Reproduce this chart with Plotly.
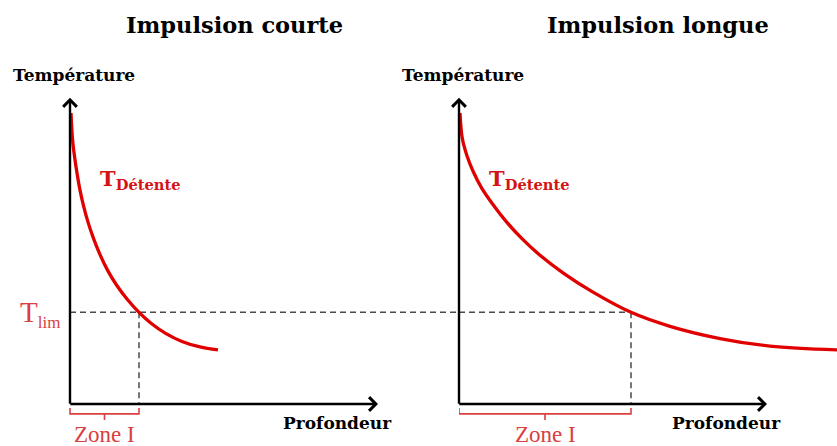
import plotly.graph_objects as go

# Profils de température en fonction de la profondeur (unités arbitraires)
depth_courte = [0.1, 0.26, 0.46, 0.70, 1.0, 1.36, 1.8, 2.34, 2.98, 3.75, 4.65,
                5.7, 6.9, 8.2, 9.6, 11.2, 13.0, 14.8]
temp_courte = [100.0, 90.7, 84.9, 79.4, 73.5, 68.0, 62.5, 57.0, 51.5, 46.0, 40.9,
               36.1, 31.5, 27.5, 24.2, 21.5, 19.6, 18.6]

depth_longue = [0.1, 0.33, 0.77, 1.43, 2.27, 3.43, 4.77, 6.27, 8.1, 10.43, 13.27,
                17.2, 21.1, 26.1, 31.1, 37.8]
temp_longue = [100.0, 91.3, 85.6, 79.8, 74.2, 68.4, 62.5, 56.9, 51.1, 45.0, 38.7,
               31.5, 26.7, 22.5, 19.9, 18.6]

T_LIM = 31.5
zone_courte = 6.9
zone_longue = 17.2

# Longueur des axes fléchés
axis_depth_max = 30.8
axis_temp_max = 105.2

titles = ["Impulsion courte", "Impulsion longue"]
y_label = "Température"
x_label = "Profondeur"
curve_label = "T<sub>Détente</sub>"
zone_label = "Zone I"

W, H = 837, 446
PX_X = 10.0          # px par unité de profondeur
PX_Y = 2.91          # px par unité de température
ORIG_L, ORIG_R, ORIG_Y = 70, 459, 404   # origines des deux repères (px)

RED = "#e00000"
RED_TXT = "#d41414"
RED_LIGHT = "#d9403f"
DASH = "#4a4a4a"
SERIF_B = "DejaVu Serif"
SERIF = "Liberation Serif"

left_max = (ORIG_R - ORIG_L) / PX_X
right_max = (W - ORIG_R) / PX_X
y_range = [-(H - ORIG_Y) / PX_Y, ORIG_Y / PX_Y]

fig = go.Figure()

panels = [
    ("x", "y", depth_courte, temp_courte, zone_courte, left_max),
    ("x2", "y2", depth_longue, temp_longue, zone_longue, zone_longue),
]

annotations = []
for xr, yr, d, t, zone, dash_end in panels:
    # Tirets T_lim (horizontal) et limite de zone (vertical)
    fig.add_trace(go.Scatter(x=[0, dash_end], y=[T_LIM, T_LIM], xaxis=xr, yaxis=yr,
                             mode="lines", line=dict(color=DASH, width=1.5, dash="6px,4px"),
                             cliponaxis=False, hoverinfo="skip"))
    fig.add_trace(go.Scatter(x=[zone, zone], y=[T_LIM, 0], xaxis=xr, yaxis=yr,
                             mode="lines", line=dict(color=DASH, width=1.5, dash="6px,4px"),
                             cliponaxis=False, hoverinfo="skip"))
    # Courbe de température
    fig.add_trace(go.Scatter(x=d, y=t, xaxis=xr, yaxis=yr, mode="lines",
                             line=dict(color=RED, width=3.3, shape="spline", smoothing=1.0),
                             cliponaxis=False, hoverinfo="skip"))
    # Accolade sous la zone I
    top, bot, tip = -1.4, -3.4, -5.5
    mid = zone / 2
    fig.add_trace(go.Scatter(x=[0, 0, mid, mid, mid, zone, zone],
                             y=[top, bot, bot, tip, bot, bot, top], xaxis=xr, yaxis=yr,
                             mode="lines", line=dict(color=RED_LIGHT, width=1.6),
                             cliponaxis=False, hoverinfo="skip"))
    # Axes fléchés
    for (x0, y0, x1, y1) in [(0, -0.45, 0, axis_temp_max), (-0.12, 0, axis_depth_max, 0)]:
        annotations.append(dict(x=x1, y=y1, ax=x0, ay=y0, xref=xr, yref=yr,
                                axref=xr, ayref=yr, text="", showarrow=True,
                                arrowhead=4, arrowsize=1.1, arrowwidth=2.4,
                                arrowcolor="black", standoff=0))
    annotations.append(dict(x=2.8, y=77, xref=xr, yref=yr, text=curve_label,
                            showarrow=False, xanchor="left", yanchor="middle",
                            font=dict(family=SERIF_B, size=21, color=RED_TXT, weight="bold")))
    annotations.append(dict(x=mid, y=-10.4, xref=xr, yref=yr, text=zone_label,
                            showarrow=False, xanchor="center", yanchor="middle",
                            font=dict(family=SERIF, size=23, color=RED_LIGHT)))

# T_lim à gauche du premier axe
annotations.append(dict(x=-0.85, y=T_LIM - 0.6, xref="x", yref="y",
                        text="T<sub><span style='font-size:17px'>lim</span></sub>",
                        showarrow=False, xanchor="right", yanchor="middle",
                        font=dict(family=SERIF, size=29, color=RED_LIGHT)))

# Titres et étiquettes d'axes
for cx, title in zip([234.5, 658], titles):
    annotations.append(dict(x=cx / W, y=1 - 25 / H, xref="paper", yref="paper", text=title,
                            showarrow=False, xanchor="center", yanchor="middle",
                            font=dict(family=SERIF_B, size=22.5, color="black", weight="bold")))
for cx in [74, 462.5]:
    annotations.append(dict(x=cx / W, y=1 - 75 / H, xref="paper", yref="paper", text=y_label,
                            showarrow=False, xanchor="center", yanchor="middle",
                            font=dict(family=SERIF_B, size=17, color="black", weight="bold")))
for cx in [337.5, 726.5]:
    annotations.append(dict(x=cx / W, y=1 - 423 / H, xref="paper", yref="paper", text=x_label,
                            showarrow=False, xanchor="center", yanchor="middle",
                            font=dict(family=SERIF_B, size=17, color="black", weight="bold")))

hidden = dict(visible=False, fixedrange=True)
fig.update_layout(
    width=W, height=H, margin=dict(l=0, r=0, t=0, b=0),
    paper_bgcolor="white", plot_bgcolor="rgba(0,0,0,0)", showlegend=False,
    xaxis=dict(domain=[0, ORIG_R / W], range=[-ORIG_L / PX_X, left_max], **hidden),
    yaxis=dict(domain=[0, 1], range=y_range, **hidden),
    xaxis2=dict(domain=[ORIG_R / W, 1], range=[0, right_max], **hidden),
    yaxis2=dict(domain=[0, 1], range=y_range, anchor="x2", **hidden),
    annotations=annotations,
)

fig.write_html("out.html")
